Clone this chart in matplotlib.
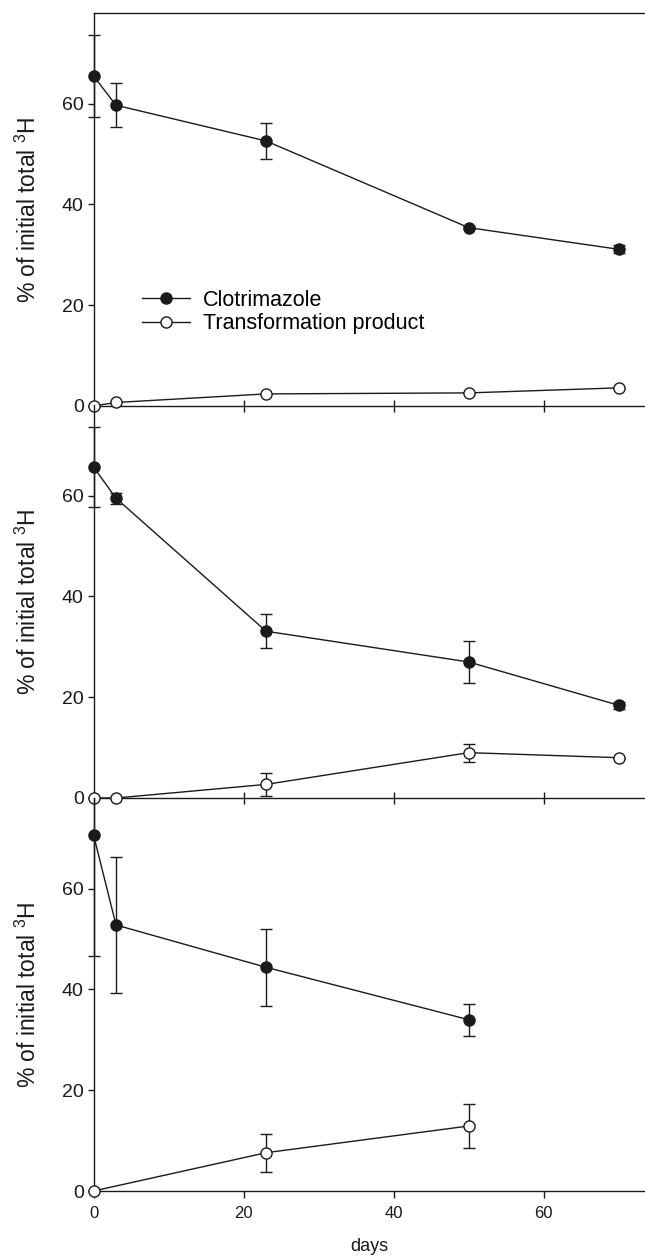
import numpy as np
import matplotlib
matplotlib.use('Agg')
import matplotlib.pyplot as plt
from matplotlib.patches import Rectangle

plt.rcParams['font.family'] = ['Liberation Sans', 'DejaVu Sans']
plt.rcParams['mathtext.default'] = 'regular'

# sampling days
days = [0, 3, 23, 50, 70]
days_c = [0, 3, 23, 50]
days_c_tp = [0, 23, 50]

# top panel
clo_a = [65.5, 59.7, 52.6, 35.4, 31.1]
clo_a_err = [8.1, 4.4, 3.5, 0.3, 0.8]
tp_a = [0.0, 0.7, 2.4, 2.6, 3.6]
tp_a_err = [0, 0, 0, 0, 0]

# middle panel
clo_b = [65.7, 59.5, 33.1, 27.0, 18.4]
clo_b_err = [7.9, 1.1, 3.4, 4.1, 0.7]
tp_b = [0.0, 0.0, 2.7, 9.0, 8.0]
tp_b_err = [0, 0, 2.3, 1.8, 0]

# bottom panel
clo_c = [70.7, 52.8, 44.4, 34.0]
clo_c_err = [24.0, 13.5, 7.6, 3.2]
tp_c = [0.0, 7.6, 12.9]
tp_c_err = [0, 3.8, 4.3]

panels = [
    (days, clo_a, clo_a_err, days, tp_a, tp_a_err),
    (days, clo_b, clo_b_err, days, tp_b, tp_b_err),
    (days_c, clo_c, clo_c_err, days_c_tp, tp_c, tp_c_err),
]

ink = '#1a1a1a'
ylabel = r'% of initial total $^3$H'

fig = plt.figure(figsize=(6.45, 12.56), dpi=100)
left = 93.5 / 645
width = 1.0 - left
h = 393 / 1256
bottoms = [1 - 406 / 1256, 1 - 798 / 1256, 1 - 1191 / 1256]

for i, (xc, yc, ec, xt, yt, et) in enumerate(panels):
    ax = fig.add_axes([left, bottoms[i], width, h])
    ax.set_xlim(0, 73.5)
    ax.set_ylim(0, 78)

    # clip box reaching a bit past the left/bottom spines, but not above the top
    clip = Rectangle((-0.1, -0.1), 1.2, 1.1, transform=ax.transAxes,
                     facecolor='none', edgecolor='none')

    arts = []
    eb = ax.errorbar(xc, yc, yerr=ec, fmt='none', ecolor=ink, elinewidth=1,
                     capsize=4, capthick=1, zorder=3)
    arts += list(eb.lines[1]) + list(eb.lines[2])
    eb = ax.errorbar(xt, yt, yerr=et, fmt='none', ecolor=ink, elinewidth=1,
                     capsize=4, capthick=1, zorder=3)
    arts += list(eb.lines[1]) + list(eb.lines[2])
    l1, = ax.plot(xc, yc, '-o', color=ink, lw=1, ms=8, mfc=ink, mec=ink,
                  label='Clotrimazole', zorder=4)
    l2, = ax.plot(xt, yt, '-o', color=ink, lw=1, ms=8, mfc='white', mec=ink,
                  mew=1, label='Transformation product', zorder=4)
    arts += [l1, l2]
    for a in arts:
        a.set_clip_path(clip)

    ax.spines['right'].set_visible(False)
    if i > 0:
        ax.spines['top'].set_visible(False)
    for s in ax.spines.values():
        s.set_linewidth(1.0)
        s.set_color(ink)

    ax.set_yticks([0, 20, 40, 60])
    ax.tick_params(axis='y', direction='out', length=4.5, width=1, colors=ink,
                   labelsize=14, pad=2.5)
    ax.set_xticks([0, 20, 40, 60])
    if i < 2:
        ax.tick_params(axis='x', direction='inout', length=8, width=1,
                       colors=ink, labelbottom=False)
    else:
        ax.tick_params(axis='x', direction='out', length=5, width=1,
                       colors=ink, labelsize=12, pad=6)
        ax.set_xlabel('days', fontsize=13, color=ink, labelpad=12)

    ax.set_ylabel(ylabel, fontsize=16.5, color=ink)
    ax.yaxis.set_label_coords(-0.095, 0.5)
    ax.patch.set_alpha(0)

    if i == 0:
        ax.legend(handles=[l1, l2], loc='upper left', bbox_to_anchor=(0.088, 0.296),
                  frameon=False, fontsize=15.5, handlelength=2.23,
                  handletextpad=0.6, labelspacing=0.12, borderpad=0,
                  borderaxespad=0)

fig.savefig('out.png', dpi=100)
